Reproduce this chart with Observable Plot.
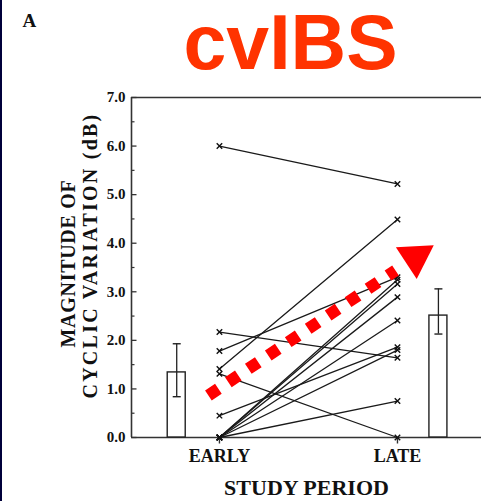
<!DOCTYPE html>
<html><head><meta charset="utf-8">
<script src="https://cdn.jsdelivr.net/npm/d3@7"></script>
<script src="https://cdn.jsdelivr.net/npm/@observablehq/plot@0.6"></script>
<style>
html,body{margin:0;padding:0;background:#fff;}
#wrap{position:relative;width:481px;height:501px;overflow:hidden;}
#edge{position:absolute;left:0;top:0;width:2px;height:501px;background:#00003a;}
#chart svg{display:block;}
</style></head><body><div id="wrap"><div id="edge"></div><div id="chart"></div></div>
<script>
// ---- data ----
const periods = ["EARLY", "LATE"];
const earlyValues = [6.0, 2.17, 1.78, 1.41, 1.31, 0.45, 0, 0, 0, 0, 0, 0];
const lateValues  = [5.22, 1.64, 3.30, 4.49, 0, 1.86, 0.75, 3.25, 3.16, 2.89, 2.41, 1.80];
const barPeriods = ["EARLY", "LATE"];
const barSlots = [-0.24, 1.23];          // location of summary bars on the period axis
const barMeans = [1.34, 2.51];
const barLow = [0.84, 2.13];
const barHigh = [1.93, 3.06];
const yMajor = [0, 1, 2, 3, 4, 5, 6, 7];
const yMinor = [0.5, 1.5, 2.5, 3.5, 4.5, 5.5, 6.5];
const yTickLabels = ["0.0", "1.0", "2.0", "3.0", "4.0", "5.0", "6.0", "7.0"];
const trendX = [-0.062, 0.989];
const trendY = [0.865, 3.44];
const trendHeadX = [1.101];
const trendHeadY = [3.712];
const titleText = "cvIBS";
const panelText = "A";
const yTitleLines = ["MAGNITUDE OF", "CYCLIC VARIATION (dB)"];
const xTitle = "STUDY PERIOD";

// ---- derived tables ----
const subjects = [];
earlyValues.forEach((v, i) => {
  subjects.push({id: i, pos: 0, value: v});
  subjects.push({id: i, pos: 1, value: lateValues[i]});
});
const bars = barPeriods.map((p, i) => ({pos: barSlots[i], mean: barMeans[i], low: barLow[i], high: barHigh[i]}));
const caps = bars.flatMap(b => [{pos: b.pos, y: b.low}, {pos: b.pos, y: b.high}]);
const trend = trendX.map((x, i) => ({x, y: trendY[i]}));
const head = trendHeadX.map((x, i) => ({x, y: trendHeadY[i]}));

const serif = "'Liberation Serif','Times New Roman',serif";
const tickRight = (len) => ({draw(ctx) { ctx.moveTo(0, 0); ctx.lineTo(len, 0); }});
const tickDown = {draw(ctx) { ctx.moveTo(0, 0); ctx.lineTo(0, 6); }};
const hcap = {draw(ctx) { ctx.moveTo(-4, 0); ctx.lineTo(4, 0); }};

const xDomain = [-0.494, 1.472];

const chart = Plot.plot({
  width: 481, height: 501,
  marginTop: 97, marginBottom: 64, marginLeft: 131, marginRight: 0,
  x: {domain: xDomain, axis: null},
  y: {domain: [0, 7], axis: null},
  style: {fontFamily: serif, background: "transparent", overflow: "visible", color: "#111"},
  marks: [
    // frame
    Plot.ruleY([0, 7], {stroke: "#333", strokeWidth: 1.6}),
    Plot.ruleX([xDomain[0]], {stroke: "#333", strokeWidth: 1.6}),
    // y ticks (inward)
    Plot.dot(yMajor, {y: d => d, frameAnchor: "left", symbol: tickRight(5), stroke: "#333", strokeWidth: 1.3, fill: "none"}),
    Plot.dot(yMinor, {y: d => d, frameAnchor: "left", symbol: tickRight(3), stroke: "#333", strokeWidth: 1.2, fill: "none"}),
    Plot.text(yMajor, {y: d => d, text: (d, i) => yTickLabels[i], frameAnchor: "left", textAnchor: "end", dx: -6, fontSize: 15, fontWeight: "bold"}),
    // x ticks
    Plot.dot(periods, {x: (d, i) => i, frameAnchor: "bottom", symbol: tickDown, stroke: "#333", strokeWidth: 1.4, fill: "none"}),
    Plot.text(periods, {x: (d, i) => i, text: d => d, frameAnchor: "bottom", dy: 24, fontSize: 18, fontWeight: "bold"}),
    // summary bars
    Plot.rect(bars, {x1: "pos", x2: "pos", y1: () => 0, y2: "mean", insetLeft: -9, insetRight: -9, fill: "white", stroke: "#222", strokeWidth: 1.4}),
    Plot.ruleX(bars, {x: "pos", y1: "low", y2: "high", stroke: "#222", strokeWidth: 1.3}),
    Plot.dot(caps, {x: "pos", y: "y", symbol: hcap, stroke: "#222", strokeWidth: 1.4, fill: "none"}),
    // subjects
    Plot.line(subjects, {x: "pos", y: "value", z: "id", stroke: "#1a1a1a", strokeWidth: 1.3}),
    Plot.dot(subjects, {x: "pos", y: "value", symbol: "times", r: 2.6, stroke: "#111", strokeWidth: 1.4}),
    // red trend arrow
    Plot.line(trend, {x: "x", y: "y", stroke: "#ff0000", strokeWidth: 12, strokeDasharray: "12,12", strokeLinecap: "butt"}),
    Plot.dot(head, {x: "x", y: "y", symbol: "triangle", r: 14.1, fill: "#ff0000", stroke: "none", rotate: 56.7}),
    // titles
    Plot.text([yTitleLines[0]], {text: d => d, frameAnchor: "left", rotate: -90, textAnchor: "middle", dx: -63, dy: -4, fontSize: 20, fontWeight: "bold"}),
    Plot.text([yTitleLines[1]], {text: d => d, frameAnchor: "left", rotate: -90, textAnchor: "middle", dx: -41, dy: -12, fontSize: 20, fontWeight: "bold"}),
    Plot.text([xTitle], {text: d => d, frameAnchor: "bottom", dy: 57, fontSize: 22, fontWeight: "bold"}),
    Plot.text([panelText], {text: d => d, frameAnchor: "top-left", dx: -109, dy: -71, textAnchor: "start", lineAnchor: "bottom", fontSize: 19, fontWeight: "bold"}),
    Plot.text([titleText], {text: d => d, frameAnchor: "top", dx: -16, dy: -29, lineAnchor: "bottom", fontSize: 77, fontWeight: "bold", fontFamily: "'Liberation Sans',Arial,sans-serif", fill: "#ff3300"})
  ]
});
document.getElementById("chart").appendChild(chart);

// stretch the y-title lines to the spread-out lettering of the original
const targets = {[yTitleLines[0]]: 168, [yTitleLines[1]]: 286};
chart.querySelectorAll("text").forEach(t => {
  const s = t.textContent;
  if (targets[s]) {
    const len = t.getComputedTextLength();
    const ls = (targets[s] - len) / s.length;
    t.style.letterSpacing = ls + "px";
  }
});
</script>
</body></html>
